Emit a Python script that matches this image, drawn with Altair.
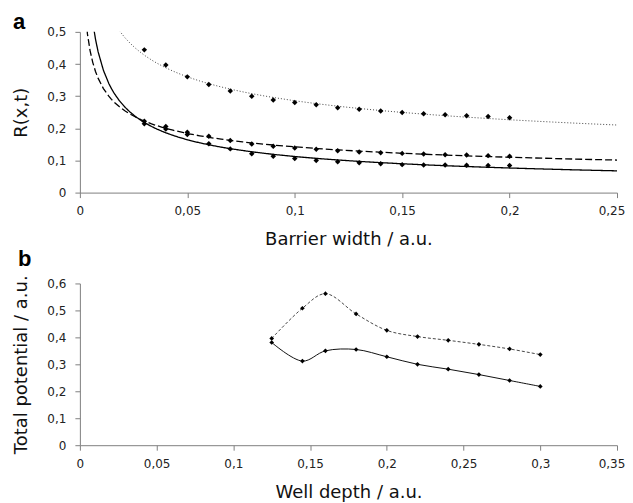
import altair as alt
import pandas as pd

# ---- Panel a data: R(x,t) vs barrier width ----
barrier_x = [0.03, 0.04, 0.05, 0.06, 0.07, 0.08, 0.09, 0.10, 0.11,
             0.12, 0.13, 0.14, 0.15, 0.16, 0.17, 0.18, 0.19, 0.20]
r_dotted = [0.444, 0.397, 0.360, 0.336, 0.316, 0.300, 0.288, 0.280, 0.273,
            0.264, 0.259, 0.254, 0.249, 0.245, 0.242, 0.239, 0.237, 0.233]
r_dashed = [0.222, 0.206, 0.188, 0.175, 0.162, 0.151, 0.144, 0.139, 0.135,
            0.130, 0.126, 0.124, 0.122, 0.120, 0.118, 0.117, 0.115, 0.113]
r_solid = [0.214, 0.198, 0.181, 0.152, 0.136, 0.121, 0.113, 0.106, 0.100,
           0.096, 0.093, 0.090, 0.087, 0.086, 0.086, 0.085, 0.084, 0.084]

# ---- Panel b data: total potential vs well depth ----
well_x = [0.125, 0.145, 0.16, 0.18, 0.20, 0.22, 0.24, 0.26, 0.28, 0.30]
pot_upper = [0.396, 0.508, 0.562, 0.487, 0.426, 0.403, 0.389, 0.374, 0.357, 0.336]
pot_lower = [0.381, 0.312, 0.350, 0.355, 0.328, 0.300, 0.282, 0.262, 0.240, 0.218]

panel_labels = ["a", "b"]
FONT = "DejaVu Sans"

XTICKS_A = [0, 0.05, 0.1, 0.15, 0.2, 0.25]
YTICKS_A = [0, 0.1, 0.2, 0.3, 0.4, 0.5]
XTICKS_B = [0, 0.05, 0.1, 0.15, 0.2, 0.25, 0.3, 0.35]
YTICKS_B = [0, 0.1, 0.2, 0.3, 0.4, 0.5, 0.6]

rows_a = []
for name, vals in [("dotted", r_dotted), ("dashed", r_dashed), ("solid", r_solid)]:
    for xv, yv in zip(barrier_x, vals):
        rows_a.append({"x": xv, "y": yv, "series": name})
df_a = pd.DataFrame(rows_a)

rows_b = []
for name, vals in [("upper", pot_upper), ("lower", pot_lower)]:
    for xv, yv in zip(well_x, vals):
        rows_b.append({"x": xv, "y": yv, "series": name})
df_b = pd.DataFrame(rows_b)

label_expr = "replace(format(datum.value, '~g'), '.', ',')"

def axis(title, values, **kw):
    return alt.Axis(title=title, values=values, grid=False, labelExpr=label_expr,
                    domainColor="#808080", tickColor="#808080", tickSize=5,
                    labelFontSize=12, titleFontSize=18, labelColor="#222",
                    titleColor="#111", titleFontWeight="normal", labelFont=FONT,
                    titleFont=FONT, labelFlush=False, **kw)

def last_offset(last):
    return {"condition": {"test": f"datum.value >= {last - 0.001}", "value": -5.5},
            "value": 0}

xa = alt.X("x:Q", scale=alt.Scale(domain=[0, 0.25], nice=False),
           axis=axis("Barrier width / a.u.", XTICKS_A, labelPadding=8, titlePadding=14,
                     labelOffset=last_offset(XTICKS_A[-1])))
ya = alt.Y("y:Q", scale=alt.Scale(domain=[0, 0.5], nice=False),
           axis=axis("R(x,t)", YTICKS_A, labelPadding=9, titlePadding=16))

base_a = alt.Chart(df_a)
styles = {"dotted": ([1, 2], "#444", 1.0),
          "dashed": ([7, 3], "#000", 1.3),
          "solid": ([1, 0], "#000", 1.3)}
layers_a = []
for name, (dash, col, w) in styles.items():
    layers_a.append(
        base_a.transform_filter(alt.datum.series == name)
        .transform_regression("x", "y", method="pow", extent=[0.001, 0.25])
        .mark_line(clip=True, strokeDash=dash, color=col, strokeWidth=w)
        .encode(x=xa, y=ya)
    )
pts_a = base_a.mark_point(shape="diamond", filled=True, color="black", size=30,
                          opacity=1).encode(x=xa, y=ya)
lab_a = alt.Chart(pd.DataFrame({"t": [panel_labels[0]]})).mark_text(
    font="Liberation Sans", fontWeight="bold", fontSize=22, align="left",
    baseline="alphabetic", color="black").encode(
    text="t:N", x=alt.value(-67), y=alt.value(-3))
panel_a = alt.layer(*layers_a, pts_a, lab_a).properties(width=538, height=161)

xb = alt.X("x:Q", scale=alt.Scale(domain=[0, 0.35], nice=False),
           axis=axis("Well depth / a.u.", XTICKS_B, labelPadding=8, titlePadding=14,
                     labelOffset=last_offset(XTICKS_B[-1])))
yb = alt.Y("y:Q", scale=alt.Scale(domain=[0, 0.6], nice=False),
           axis=axis("Total potential / a.u.", YTICKS_B, labelPadding=9, titlePadding=16))
base_b = alt.Chart(df_b)
line_up = base_b.transform_filter(alt.datum.series == "upper").mark_line(
    interpolate="catmull-rom", strokeDash=[3, 2], color="#333", strokeWidth=0.9
).encode(x=xb, y=yb)
line_lo = base_b.transform_filter(alt.datum.series == "lower").mark_line(
    interpolate="catmull-rom", color="#111", strokeWidth=1.0
).encode(x=xb, y=yb)
pts_b = base_b.mark_point(shape="diamond", filled=True, color="black", size=22,
                          opacity=1).encode(x=xb, y=yb)
lab_b = alt.Chart(pd.DataFrame({"t": [panel_labels[1]]})).mark_text(
    font="Liberation Sans", fontWeight="bold", fontSize=22, align="left",
    baseline="alphabetic", color="black").encode(
    text="t:N", x=alt.value(-62), y=alt.value(-17))
panel_b = alt.layer(line_up, line_lo, pts_b, lab_b).properties(width=538, height=162)

chart = alt.vconcat(panel_a, panel_b, spacing=0).properties(
    padding={"left": 4, "top": 2.5, "right": 0, "bottom": 0}
).configure_view(stroke=None)

chart.save("out.html", embed_options={"renderer": "svg", "actions": False})
